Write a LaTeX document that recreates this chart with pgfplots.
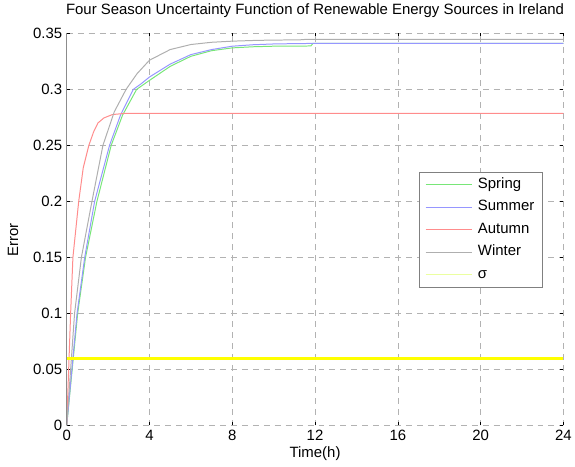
\documentclass[border=0pt]{standalone}
\usepackage{fontspec}
\setmainfont{Liberation Sans}
\usepackage{pgfplots}
\pgfplotsset{compat=1.18}

\definecolor{springc}{RGB}{120,230,120}
\definecolor{summerc}{RGB}{150,150,255}
\definecolor{autumnc}{RGB}{255,140,140}
\definecolor{winterc}{RGB}{175,175,175}
\definecolor{sigmac}{RGB}{255,255,0}
\definecolor{sigmaleg}{RGB}{235,255,160}

\newcommand{\chartfont}{\fontsize{15}{18}\selectfont}

\begin{document}
\begin{tikzpicture}
\begin{axis}[
    scale only axis,
    width=499pt, height=394pt,
    xmin=0, xmax=24, ymin=0, ymax=0.35,
    xtick={0,4,8,12,16,20,24},
    ytick={0,0.05,0.1,0.15,0.2,0.25,0.3,0.35},
    yticklabels={0,0.05,0.1,0.15,0.2,0.25,0.3,0.35},
    /pgf/number format/assume math mode=true,
    tick label style={font=\chartfont},
    xticklabel style={yshift=-1pt},
    yticklabel style={xshift=-1pt},
    grid=major,
    major grid style={draw=black!30, line width=0.5pt, dash pattern=on 6pt off 5pt},
    axis line style={draw=none},
    tick align=inside,
    major tick length=3pt,
    tick style={black, line width=0.5pt},
    title={Four Season Uncertainty Function of Renewable Energy Sources in Ireland},
    title style={font=\chartfont, at={(rel axis cs:0.5,1.0337)}, anchor=base},
    xlabel={Time(h)},
    xlabel style={font=\chartfont, at={(rel axis cs:0.5,-0.0723)}, anchor=center},
    ylabel={Error},
    ylabel style={font=\chartfont, at={(rel axis cs:-0.108,0.473)}, anchor=center},
    legend style={at={(rel axis cs:0.7094,0.6456)}, anchor=north west,
        draw=black!50, fill=white, font=\chartfont,
        inner xsep=6pt, inner ysep=3pt, row sep=3.5pt, column sep=4pt,
        nodes={inner sep=2pt, text height=11pt, text depth=4pt}},
    legend cell align=left,
    legend image code/.code={\draw[#1] (0pt,0pt) -- (46pt,0pt);},
    after end axis/.code={
        \draw[black!45, line width=0.6pt] (rel axis cs:0,0) -- (rel axis cs:0,1);
        \path (rel axis cs:-0.1343,-0.1053) rectangle (rel axis cs:1.018,1.0819);
    },
]
% Spring
\addplot[draw=springc, line width=1pt] coordinates {
(0,0) (0.53,0.1) (0.91,0.15) (1.46,0.2) (2.15,0.25) (2.7,0.277) (3.38,0.3)
(4,0.308) (5,0.3205) (6,0.3295) (7,0.3345) (8,0.337) (9,0.338) (10,0.3385)
(11.8,0.3387) (11.9,0.341) (24,0.341)};
\addlegendentry{Spring}
% Summer
\addplot[draw=summerc, line width=1pt] coordinates {
(0,0) (0.5,0.1) (0.87,0.15) (1.35,0.2) (2.07,0.25) (2.6,0.277) (3.22,0.3)
(3.6,0.305) (4,0.311) (5,0.3225) (6,0.331) (7,0.3355) (8,0.3385) (9,0.3398)
(10,0.3405) (11,0.3408) (12,0.341) (24,0.341)};
\addlegendentry{Summer}
% Autumn
\addplot[draw=autumnc, line width=1pt] coordinates {
(0,0) (0.19,0.1) (0.3,0.15) (0.58,0.2) (0.8,0.23) (1.07,0.25) (1.3,0.262)
(1.51,0.27) (1.8,0.2745) (2.21,0.2775) (2.8,0.2785) (24,0.2785)};
\addlegendentry{Autumn}
% Winter
\addplot[draw=winterc, line width=1pt] coordinates {
(0,0) (0.38,0.1) (0.71,0.15) (1.22,0.2) (1.75,0.25) (2.3,0.28) (2.87,0.3)
(3.4,0.314) (4,0.326) (5,0.3355) (6,0.34) (7,0.342) (8,0.343) (9,0.3436)
(10,0.344) (11.2,0.3441) (11.5,0.3445) (24,0.3445)};
\addlegendentry{Winter}
% sigma threshold
\addplot[draw=sigmac, line width=3.5pt, forget plot] coordinates {(0,0.06) (24,0.06)};
\addlegendimage{draw=sigmaleg, line width=1pt}
\addlegendentry{σ}
\end{axis}
\end{tikzpicture}
\end{document}
